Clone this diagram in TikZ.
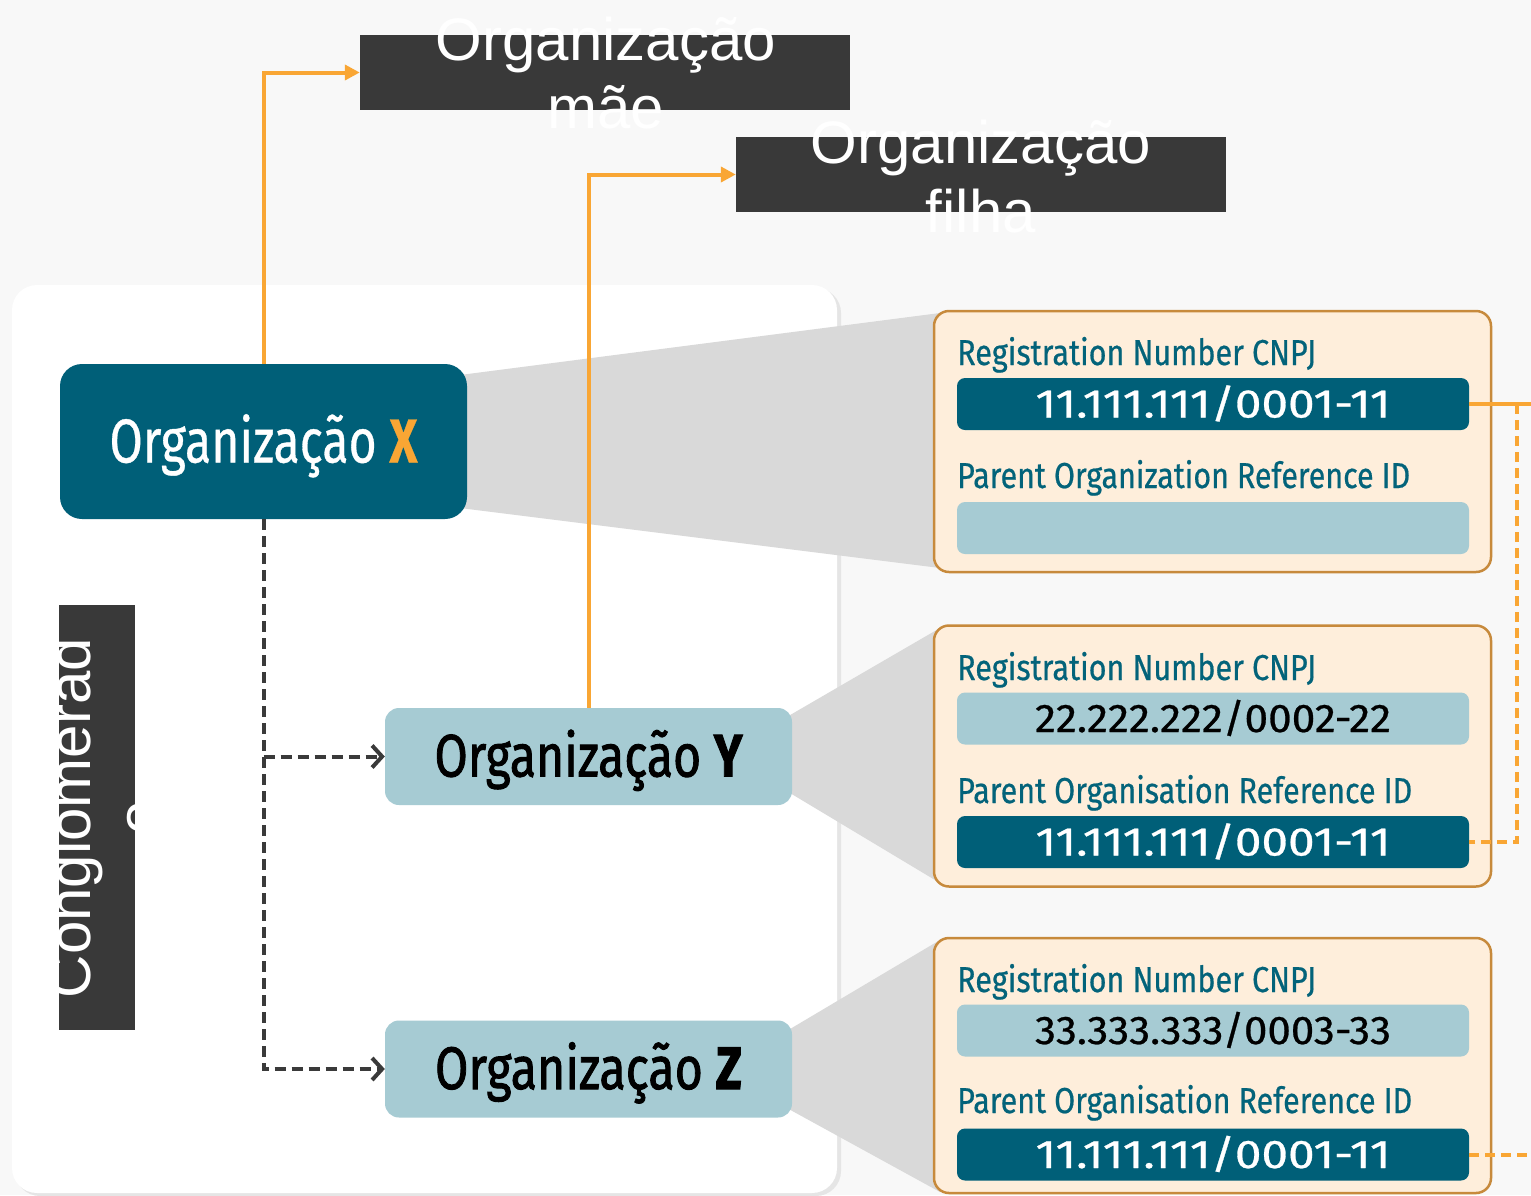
\documentclass[tikz,border=0pt]{standalone}
\usepackage{fontspec}
\setmainfont{Liberation Sans}
\newfontfamily\fira{Fira Sans}
\newfontfamily\firasb[FakeBold=1.6]{Fira Sans}
\newfontfamily\firam[FakeBold=0.6]{Fira Sans}
\usetikzlibrary{arrows.meta}
\definecolor{bgc}{HTML}{F8F8F8}
\definecolor{dbox}{HTML}{393939}
\definecolor{teal1}{HTML}{005F78}
\definecolor{lblue}{HTML}{A6CBD3}
\definecolor{cardf}{HTML}{FEEEDB}
\definecolor{cardb}{HTML}{C78A3C}
\definecolor{lbltxt}{HTML}{03637A}
\definecolor{orng}{HTML}{F9A634}
\definecolor{dgray}{HTML}{3A3A3A}
\definecolor{fgray}{HTML}{D9D9D9}
\newcommand{\fitw}[2]{\resizebox{#1}{\height}{#2}}
\tikzset{
 orgbase/.style={rounded corners=22pt, inner sep=0pt, text height=42pt, text depth=0pt, minimum width=407pt},
 orgX/.style={orgbase, fill=teal1, minimum height=155pt, text=white, font=\firam\fontsize{62}{62}\selectfont},
 orgYZ/.style={orgbase, rounded corners=14pt, fill=lblue, minimum height=97pt, text height=40pt, text=black, font=\firasb\fontsize{60}{60}\selectfont},
 card/.style={draw=cardb, line width=2.5pt, fill=cardf, rounded corners=15pt, minimum width=557pt, inner sep=0pt},
 fld/.style={rounded corners=8pt, minimum width=512pt, minimum height=52pt, inner sep=0pt, text height=27pt, text depth=0pt, font=\firam\fontsize{40}{40}\selectfont},
 fdark/.style={fld, fill=teal1, text=white},
 flight/.style={fld, fill=lblue, text=black},
 lbl/.style={anchor=base west, inner sep=0pt, text=lbltxt, font=\firam\fontsize{36}{36}\selectfont},
 darkbox/.style={fill=dbox, minimum width=490pt, minimum height=75pt, inner sep=0pt},
 bigtxt/.style={anchor=base, inner sep=0pt, text=white, font=\fontsize{60}{60}\selectfont},
 oline/.style={draw=orng, line width=4pt},
 oarrow/.style={oline, -{Triangle[length=15pt,width=15pt]}},
 odash/.style={oline, dash pattern=on 10pt off 6pt},
 ddash/.style={draw=dgray, line width=4pt, dash pattern=on 11pt off 6pt, -{Straight Barb[length=10pt,width=22pt]}},
 funnel/.style={fill=fgray},
}
\begin{document}
\begin{tikzpicture}[x=1pt,y=-1pt]
\useasboundingbox (0,0) rectangle (1531,1195);
\fill[bgc] (0,0) rectangle (1531,1195);
% panel
\fill[black!10, rounded corners=25pt] (15,288) rectangle (841,1196);
\fill[white, rounded corners=25pt] (12,285) rectangle (837,1193);
% funnels
\fill[funnel] (460,375) -- (940,313) -- (940,568) -- (460,508) -- cycle;
\fill[funnel] (785,718) -- (940,628) -- (940,883) -- (785,790) -- cycle;
\fill[funnel] (785,1032) -- (940,940) -- (940,1192) -- (785,1107) -- cycle;
% cards
\node[card, minimum height=261pt] (c1) at (1212.5,441.5) {};
\node[card, minimum height=261pt] (c2) at (1212.5,756) {};
\node[card, minimum height=255pt] (c3) at (1212.5,1065.5) {};
\node[lbl] (l11) at (957,365) {\fitw{359pt}{Registration Number CNPJ}};
\node[fdark] (f11) at (1213,404) {\fitw{355pt}{11.111.111/0001-11}};
\node[lbl] (l12) at (957,488) {\fitw{453pt}{Parent Organization Reference ID}};
\node[flight] (f12) at (1213,528) {};
\node[lbl] (l21) at (957,680) {\fitw{359pt}{Registration Number CNPJ}};
\node[flight] (f21) at (1213,718.5) {\fitw{356pt}{22.222.222/0002-22}};
\node[lbl] (l22) at (957,803) {\fitw{455pt}{Parent Organisation Reference ID}};
\node[fdark] (f22) at (1213,842) {\fitw{355pt}{11.111.111/0001-11}};
\node[lbl] (l31) at (957,992) {\fitw{359pt}{Registration Number CNPJ}};
\node[flight] (f31) at (1213,1030.5) {\fitw{356pt}{33.333.333/0003-33}};
\node[lbl] (l32) at (957,1113) {\fitw{455pt}{Parent Organisation Reference ID}};
\node[fdark] (f32) at (1213,1154.5) {\fitw{355pt}{11.111.111/0001-11}};
% org nodes
\node[orgX] (X) at (263.5,441.5) {\fitw{308pt}{Organização \textcolor{orng}{\bfseries X}}};
\node[orgYZ] (Y) at (588.5,756.5) {\fitw{308pt}{Organização \bfseries Y}};
\node[orgYZ] (Z) at (588.5,1069) {\fitw{307pt}{Organização \bfseries Z}};
% top boxes
\node[darkbox] (mae) at (605,72.5) {};
\node[darkbox] (filha) at (981,174.5) {};
\node[bigtxt] (mae1) at (606,60) {Organização};
\node[bigtxt] (mae2) at (606,128) {mãe};
\node[bigtxt] (fil1) at (981,163) {Organização};
\node[bigtxt] (fil2) at (981,232) {filha};
% connectors
\draw[oarrow] (X.north) |- (mae.west);
\draw[oarrow] (Y.north) |- (filha.west);
\draw[ddash] (X.south) |- (Z.west);
\draw[ddash] (X.south |- Y.west) -- (Y.west);
\coordinate (r1) at (1531,404);
\coordinate (j1) at (1517,404);
\coordinate (r3) at (1531,1154.5);
\draw[oline] (f11.east) -- (r1);
\draw[odash] (j1) |- (f22.east);
\draw[odash] (f32.east) -- (r3);
% conglomerado
\node[fill=dbox, minimum width=76pt, minimum height=425pt, inner sep=0pt] (cg) at (97,817.5) {};
\begin{scope}
\clip (59,605) rectangle (135,1030);
\node[bigtxt, rotate=90] (cg1) at (90,818) {Conglomerad};
\node[bigtxt, rotate=90] (cg2) at (159,818) {o};
\end{scope}
\end{tikzpicture}
\end{document}
